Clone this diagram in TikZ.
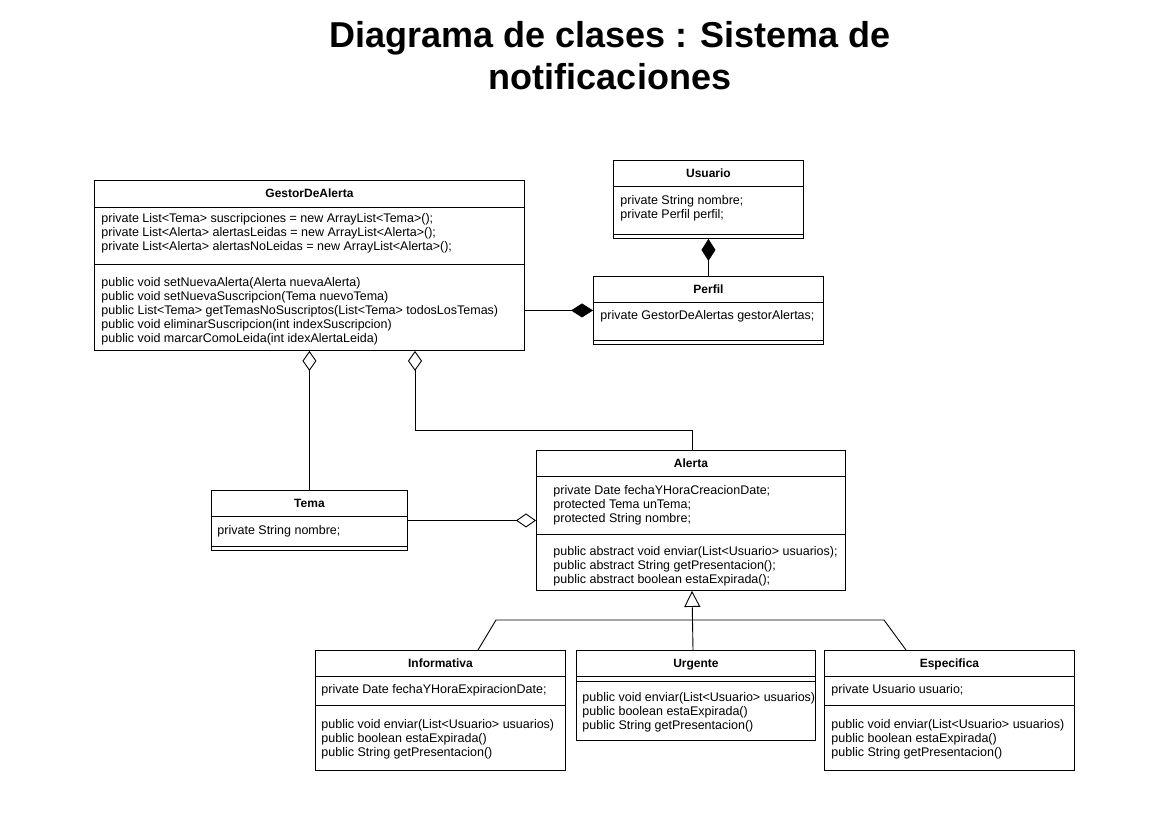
\documentclass[tikz,border=0pt]{standalone}
\usepackage{fontspec}
\setmainfont{Liberation Sans}
\usetikzlibrary{positioning, arrows.meta, calc}
\newcommand{\memberfont}{\fontsize{12.5}{14}\selectfont}

\begin{document}
\begin{tikzpicture}[x=1pt, y=-1pt, line width=0.9pt,
    classbox/.style={draw, anchor=north west, inner sep=0pt},
    classname/.style={inner sep=0pt, text height=8.6pt, text depth=0pt, font=\fontsize{12}{14}\selectfont\bfseries},
    members/.style={anchor=north west, align=left, inner sep=0pt, font=\memberfont},
    heading/.style={align=center, inner sep=0pt, font=\fontsize{36}{42.5}\selectfont\bfseries},
    agg/.style={-{Diamond[open, length=20pt, width=14pt]}},
    comp/.style={-{Diamond[length=22pt, width=14pt]}},
    gen/.style={-{Triangle[open, length=16pt, width=16pt]}}]
    \useasboundingbox (0,0) rectangle (1169,827);
    \node[heading] (title) at (610,55.5) {Diagrama de clases : Sistema de\\notificaciones};

    \node[classbox, minimum width=430, minimum height=170] (gestor) at (94,180) {};
    \node[classname] (gestorname) at ($(gestor.north)+(0,13.5)$) {GestorDeAlerta};
    \draw ($(gestor.north west)+(0,27)$) -- ($(gestor.north east)+(0,27)$);
    \draw ($(gestor.north west)+(0,84)$) -- ($(gestor.north east)+(0,84)$);
    \node[members] (gestorattr) at ($(gestor.north west)+(7,33)$) {private List<Tema> suscripciones = new ArrayList<Tema>();\\
        private List<Alerta> alertasLeidas = new ArrayList<Alerta>();\\
        private List<Alerta> alertasNoLeidas = new ArrayList<Alerta>();};
    \node[members] (gestorops) at ($(gestor.north west)+(7,97)$) {public void setNuevaAlerta(Alerta nuevaAlerta)\\
        public void setNuevaSuscripcion(Tema nuevoTema)\\
        public List<Tema> getTemasNoSuscriptos(List<Tema> todosLosTemas)\\
        public void eliminarSuscripcion(int indexSuscripcion)\\
        public void marcarComoLeida(int idexAlertaLeida)};

    \node[classbox, minimum width=190, minimum height=78] (usuario) at (613,160) {};
    \node[classname] (usuarioname) at ($(usuario.north)+(0,13)$) {Usuario};
    \draw ($(usuario.north west)+(0,26)$) -- ($(usuario.north east)+(0,26)$);
    \draw ($(usuario.south west)+(0,-4)$) -- ($(usuario.south east)+(0,-4)$);
    \node[members] (usuarioattr) at ($(usuario.north west)+(7,35)$) {private String nombre;\\private Perfil perfil;};

    \node[classbox, minimum width=230, minimum height=68] (perfil) at (593,276) {};
    \node[classname] (perfilname) at ($(perfil.north)+(0,13)$) {Perfil};
    \draw ($(perfil.north west)+(0,26)$) -- ($(perfil.north east)+(0,26)$);
    \draw ($(perfil.south west)+(0,-4)$) -- ($(perfil.south east)+(0,-4)$);
    \node[members] (perfilattr) at ($(perfil.north west)+(7,34)$) {private GestorDeAlertas gestorAlertas;};

    \node[classbox, minimum width=196, minimum height=60] (tema) at (211,490) {};
    \node[classname] (temaname) at ($(tema.north)+(0,13)$) {Tema};
    \draw ($(tema.north west)+(0,26)$) -- ($(tema.north east)+(0,26)$);
    \draw ($(tema.south west)+(0,-4)$) -- ($(tema.south east)+(0,-4)$);
    \node[members] (temaattr) at ($(tema.north west)+(6,35)$) {private String nombre;};

    \node[classbox, minimum width=309, minimum height=140] (alerta) at (536,450) {};
    \node[classname] (alertaname) at ($(alerta.north)+(0,13)$) {Alerta};
    \draw ($(alerta.north west)+(0,26)$) -- ($(alerta.north east)+(0,26)$);
    \draw ($(alerta.north west)+(0,84)$) -- ($(alerta.north east)+(0,84)$);
    \node[members] (alertaattr) at ($(alerta.north west)+(17,35)$) {private Date fechaYHoraCreacionDate;\\
        protected Tema unTema;\\
        protected String nombre;};
    \node[members] (alertaops) at ($(alerta.north west)+(17,96)$) {public abstract void enviar(List<Usuario> usuarios);\\
        public abstract String getPresentacion();\\
        public abstract boolean estaExpirada();};

    \node[classbox, minimum width=250, minimum height=120] (informativa) at (315,650) {};
    \node[classname] (informativaname) at ($(informativa.north)+(0,13)$) {Informativa};
    \draw ($(informativa.north west)+(0,26)$) -- ($(informativa.north east)+(0,26)$);
    \draw ($(informativa.north west)+(0,55)$) -- ($(informativa.north east)+(0,55)$);
    \node[members] (informativaattr) at ($(informativa.north west)+(6,34)$) {private Date fechaYHoraExpiracionDate;};
    \node[members] (informativaops) at ($(informativa.north west)+(6,69)$) {public void enviar(List<Usuario> usuarios)\\
        public boolean estaExpirada()\\
        public String getPresentacion()};

    \node[classbox, minimum width=239, minimum height=90] (urgente) at (576,650) {};
    \node[classname] (urgentename) at ($(urgente.north)+(0,13)$) {Urgente};
    \draw ($(urgente.north west)+(0,26)$) -- ($(urgente.north east)+(0,26)$);
    \draw ($(urgente.north west)+(0,31)$) -- ($(urgente.north east)+(0,31)$);
    \node[members] (urgenteops) at ($(urgente.north west)+(6,42)$) {public void enviar(List<Usuario> usuarios)\\
        public boolean estaExpirada()\\
        public String getPresentacion()};

    \node[classbox, minimum width=250, minimum height=120] (especifica) at (824,650) {};
    \node[classname] (especificaname) at ($(especifica.north)+(0,13)$) {Especifica};
    \draw ($(especifica.north west)+(0,26)$) -- ($(especifica.north east)+(0,26)$);
    \draw ($(especifica.north west)+(0,55)$) -- ($(especifica.north east)+(0,55)$);
    \node[members] (especificaattr) at ($(especifica.north west)+(7,34)$) {private Usuario usuario;};
    \node[members] (especificaops) at ($(especifica.north west)+(7,69)$) {public void enviar(List<Usuario> usuarios)\\
        public boolean estaExpirada()\\
        public String getPresentacion()};

    \draw[comp] (perfil.north) -- (usuario.south);
    \draw[comp] (perfil.west -| gestor.east) -- (perfil.west);
    \draw[agg] (tema.north) -- (tema.north |- gestor.south);
    \draw[agg] ($(alerta.north west)+(156,0)$) -- ++(0,-20) -| ($(gestor.south west)+(321,0)$);
    \draw[agg] (tema.east) -- (tema.east -| alerta.west);

    \coordinate (genleft) at (496,620);
    \coordinate (genright) at (884,620);
    \draw[gen] ($(urgente.north west)+(117,0)$) -- ($(alerta.south west)+(156,0)$);
    \draw ($(informativa.north west)+(163,0)$) -- (genleft) -- (genright) -- ($(especifica.north west)+(82,0)$);
\end{tikzpicture}
\end{document}
